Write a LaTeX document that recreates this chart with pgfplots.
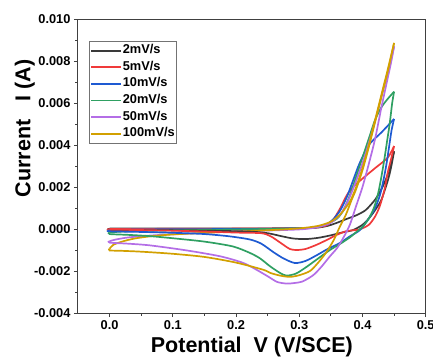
\documentclass[border=0pt]{standalone}
\usepackage{pgfplots}
\pgfplotsset{compat=1.18}
\usepackage{fontspec}
\setmainfont{Liberation Sans}
\definecolor{cblack}{HTML}{3A3A3A}
\definecolor{cred}{HTML}{F03A3A}
\definecolor{cblue}{HTML}{1E5AD2}
\definecolor{cgreen}{HTML}{2FA062}
\definecolor{cpurple}{HTML}{B46EE6}
\definecolor{cgold}{HTML}{D2A000}
\begin{document}
\begin{tikzpicture}
\useasboundingbox (-78pt,-47pt) rectangle (355pt,313pt);
\begin{axis}[
  at={(0pt,0pt)}, anchor=south west,
  scale only axis, width=347.7pt, height=294pt,
  xmin=-0.05, xmax=0.5, ymin=-0.004, ymax=0.010,
  xtick={0,0.1,0.2,0.3,0.4,0.5},
  ytick={-0.004,-0.002,0,0.002,0.004,0.006,0.008,0.010},
  minor x tick num=1, minor y tick num=1,
  tick align=outside, xtick pos=bottom, ytick pos=left,
  major tick length=4pt, minor tick length=2.5pt,
  tick style={black!75, line width=0.8pt},
  axis line style={black!75, line width=1pt},
  scaled y ticks=false, scaled x ticks=false,
  /pgf/number format/assume math mode=true,
  ticklabel style={font=\fontsize{12.8}{14}\selectfont\bfseries},
  yticklabel style={/pgf/number format/.cd, fixed, fixed zerofill, precision=3},
  xticklabel style={/pgf/number format/.cd, fixed, fixed zerofill, precision=1},
  xlabel={Potential\ \ V (V/SCE)},
  ylabel={Current\ \ \ I (A)},
  label style={font=\fontsize{21.5}{25}\selectfont\bfseries},
  xlabel style={at={(axis description cs:0.5,-0.136)}, anchor=base},
  ylabel style={at={(axis description cs:-0.137,0.6276)}, anchor=base},
  legend cell align=left,
  legend image code/.code={\draw[#1] (0pt,0pt) -- (30pt,0pt);},
  legend style={at={(axis description cs:0.0316,0.925)}, anchor=north west,
    draw=black!55, line width=0.6pt, inner xsep=1pt, inner ysep=1pt,
    font=\fontsize{12.8}{14}\selectfont\bfseries, row sep=0pt,
    nodes={inner sep=0.8pt, text height=10.6pt, text depth=4.4pt}},
  every axis plot/.append style={line width=1.7pt, smooth, tension=0.45},
]
% 2 mV/s
\addplot[cblack] table {
0 0.00002
0.05 0.00002
0.1 0.00002
0.15 0.00002
0.2 0.00002
0.25 0.00003
0.3 0.00004
0.33 0.00007
0.345 0.00015
0.36 0.0003
0.375 0.00048
0.39 0.00065
0.405 0.0009
0.42 0.0014
0.43 0.0019
0.44 0.0026
0.45 0.0037
};
\addlegendentry{2mV/s}
% 5 mV/s
\addplot[cred] table {
0 0.0
0.1 0.00001
0.2 0.00002
0.3 0.00003
0.33 0.00008
0.345 0.0002
0.355 0.0005
0.365 0.001
0.375 0.0016
0.385 0.002
0.40 0.0024
0.42 0.0029
0.44 0.0034
0.45 0.00395
};
\addlegendentry{5mV/s}
% 10 mV/s
\addplot[cblue] table {
0 -0.00006
0.03 -0.00003
0.1 -0.00001
0.2 0.0
0.3 0.00003
0.33 0.0001
0.345 0.00025
0.355 0.0005
0.365 0.0009
0.375 0.0015
0.385 0.0023
0.395 0.0031
0.41 0.0040
0.43 0.0046
0.45 0.00524
};
\addlegendentry{10mV/s}
% 20 mV/s
\addplot[cgreen] table {
0 -0.00016
0.03 -0.00011
0.1 -0.00006
0.2 -0.00002
0.3 0.00003
0.33 0.0001
0.345 0.00025
0.36 0.0005
0.37 0.0009
0.38 0.0016
0.39 0.0025
0.40 0.0034
0.41 0.0043
0.42 0.0052
0.43 0.0058
0.44 0.0062
0.45 0.00654
};
\addlegendentry{20mV/s}
% 50 mV/s
\addplot[cpurple] table {
0 -0.00058
0.01 -0.0005
0.03 -0.0004
0.07 -0.0003
0.15 -0.00018
0.2 -0.00012
0.3 -0.00002
0.33 0.0001
0.35 0.0003
0.365 0.0007
0.375 0.0012
0.385 0.0019
0.395 0.0027
0.405 0.0036
0.415 0.0046
0.425 0.0057
0.435 0.0069
0.445 0.0080
0.45 0.0087
};
\addlegendentry{50mV/s}
% 100 mV/s
\addplot[cgold] table {
0 -0.00094
0.006 -0.00075
0.022 -0.00058
0.04 -0.00045
0.064 -0.00035
0.1 -0.00026
0.175 -0.00015
0.25 -0.00006
0.3 0.00003
0.33 0.00015
0.35 0.00035
0.365 0.0007
0.38 0.0013
0.39 0.002
0.40 0.0029
0.41 0.004
0.42 0.0052
0.43 0.0064
0.44 0.0076
0.45 0.00886
};
\addlegendentry{100mV/s}
% reverse scans
\addplot[cblack, forget plot] table {
0.45 0.0037
0.445 0.0029
0.44 0.0023
0.43 0.0014
0.42 0.0009
0.41 0.0005
0.40 0.0002
0.385 -0.00005
0.37 -0.00015
0.35 -0.0003
0.33 -0.00042
0.31 -0.00048
0.29 -0.00045
0.27 -0.00033
0.25 -0.0002
0.22 -0.00012
0.15 -0.00008
0.05 -0.00005
0 -0.00004
0 0.00002
};
\addplot[cred, forget plot] table {
0.45 0.00395
0.445 0.0033
0.44 0.0027
0.435 0.0019
0.4275 0.0011
0.42 0.0006
0.41 0.0002
0.395 -0.00002
0.375 -0.0001
0.36 -0.00027
0.345 -0.0005
0.3275 -0.00075
0.31 -0.00095
0.296 -0.001
0.285 -0.00095
0.27 -0.00065
0.255 -0.00035
0.24 -0.0002
0.2 -0.00017
0.15 -0.00012
0.1 -0.00008
0.05 -0.00005
0 -0.00003
0 0.0
};
\addplot[cblue, forget plot] table {
0.45 0.00524
0.446 0.0047
0.442 0.0039
0.438 0.0031
0.433 0.0023
0.4275 0.0016
0.42 0.001
0.41 0.0005
0.396 -0.00005
0.38 -0.00035
0.364 -0.00067
0.345 -0.00095
0.3275 -0.00125
0.31 -0.00152
0.293 -0.00162
0.275 -0.0014
0.259 -0.0011
0.24 -0.0007
0.222 -0.0005
0.19 -0.00035
0.15 -0.00024
0.1 -0.00018
0.05 -0.00014
0 -0.00011
0 -0.00006
};
\addplot[cgreen, forget plot] table {
0.45 0.00654
0.447 0.0060
0.443 0.0050
0.439 0.0042
0.435 0.0034
0.43 0.0025
0.4248 0.0017
0.418 0.001
0.41 0.0005
0.40 0.0001
0.39 -0.00015
0.38 -0.0004
0.365 -0.0007
0.3485 -0.001
0.33 -0.0014
0.3117 -0.0018
0.295 -0.00212
0.28 -0.00222
0.27 -0.0021
0.254 -0.00178
0.238 -0.0014
0.222 -0.00114
0.195 -0.00083
0.15 -0.0006
0.1 -0.00044
0.064 -0.00034
0.03 -0.00028
0 -0.00024
0 -0.00016
};
\addplot[cpurple, forget plot] table {
0.45 0.0087
0.445 0.0079
0.44 0.0072
0.43 0.0058
0.42 0.0043
0.41 0.0031
0.40 0.0020
0.39 0.0011
0.38 0.0002
0.37 -0.0004
0.36 -0.0009
0.3485 -0.0013
0.335 -0.0018
0.322 -0.0022
0.305 -0.0025
0.29 -0.00258
0.28 -0.0026
0.265 -0.00252
0.25 -0.00225
0.23 -0.0019
0.21 -0.0016
0.175 -0.0013
0.122 -0.00102
0.064 -0.00078
0.03 -0.0007
0 -0.00065
0 -0.00058
};
\addplot[cgold, forget plot] table {
0.45 0.00886
0.44 0.0075
0.43 0.0063
0.42 0.0051
0.41 0.0039
0.40 0.0028
0.39 0.0019
0.383 0.0014
0.374 0.0007
0.364 0.0001
0.355 -0.0005
0.343 -0.0011
0.33 -0.0016
0.317 -0.002
0.30 -0.0022
0.285 -0.00228
0.27 -0.00222
0.255 -0.0021
0.243 -0.00194
0.2 -0.0016
0.15 -0.00133
0.1 -0.00118
0.05 -0.00108
0.02 -0.00104
0 -0.00102
0 -0.00094
};
\end{axis}
\end{tikzpicture}
\end{document}
